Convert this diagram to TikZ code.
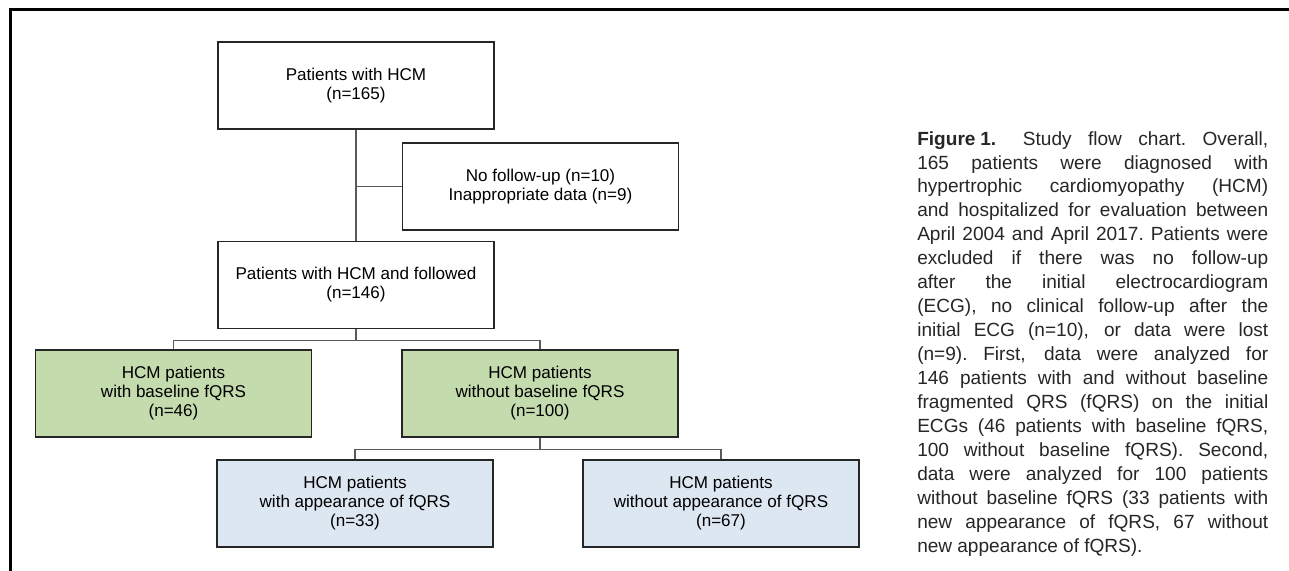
\documentclass[tikz,border=0pt]{standalone}
\usepackage{fontspec}
\setmainfont{Liberation Sans}
\definecolor{basegreen}{RGB}{196,219,174}
\definecolor{appblue}{RGB}{221,231,242}
\newcommand{\capline}[1]{\hbox to 263.25pt{#1}}
\begin{document}
\begin{tikzpicture}[x=0.75pt,y=-0.75pt,
  box/.style={draw=black!85,line width=1.1pt,fill=white,minimum width=207pt,
    minimum height=65.25pt,inner sep=0pt,align=center,
    font=\fontsize{12.8}{14.3}\selectfont},
  greenbox/.style={box,fill=basegreen},
  bluebox/.style={box,fill=appblue},
  link/.style={draw=black!65,line width=0.8pt},
  frame/.style={draw=black,line width=2.25pt}]
  \useasboundingbox (0,0) rectangle (1289,571);
  \draw[frame] (1289,9.5) -| (10.5,571);
  \node[box] (hcm) at (356,85.5) {Patients with HCM\\(n=165)};
  \node[box] (excl) at (540.5,186.5) {No follow-up (n=10)\\Inappropriate data (n=9)};
  \node[box] (fol) at (356,285) {Patients with HCM and followed\\(n=146)};
  \node[greenbox] (wbase) at (173.5,393.5) {HCM patients\\with baseline fQRS\\(n=46)};
  \node[greenbox] (wobase) at (540,393.5) {HCM patients\\without baseline fQRS\\(n=100)};
  \node[bluebox] (wapp) at (355,503.5) {HCM patients\\with appearance of fQRS\\(n=33)};
  \node[bluebox] (woapp) at (721,503.5) {HCM patients\\without appearance of fQRS\\(n=67)};
  \draw[link] (hcm) -- (fol);
  \coordinate (excljoin) at (hcm.south |- excl.west);
  \draw[link] (excljoin) -- (excl.west);
  \path (fol.south) ++(0,11) coordinate (folknot);
  \draw[link] (fol.south) -- (folknot);
  \draw[link] (wbase.north) |- (folknot) -| (wobase.north);
  \path (wobase.south) ++(0,12) coordinate (baseknot);
  \draw[link] (wobase.south) -- (baseknot);
  \draw[link] (wapp.north) |- (baseknot) -| (woapp.north);
  \node[anchor=north west,text width=263.25pt,inner sep=0pt,text=black!85,
    font=\fontsize{14.3}{17.96}\selectfont] (caption) at (917,131)
    {\baselineskip=17.96pt
     \spaceskip=0.27em plus 3em minus 0.05em
     \xspaceskip=\spaceskip
     \capline{\textbf{Figure\kern0.25em1.}\kern1.4em Study flow chart. Overall,}
     \capline{165 patients were diagnosed with}
     \capline{hypertrophic cardiomyopathy (HCM)}
     \capline{and hospitalized for evaluation between}
     \capline{April 2004 and April 2017. Patients were}
     \capline{excluded if there was no follow-up}
     \capline{after the initial electrocardiogram}
     \capline{(ECG), no clinical follow-up after the}
     \capline{initial ECG (n=10), or data were lost}
     \capline{(n=9). First, data were analyzed for}
     \capline{146 patients with and without baseline}
     \capline{fragmented QRS (fQRS) on the initial}
     \capline{ECGs (46 patients with baseline fQRS,}
     \capline{100 without baseline fQRS). Second,}
     \capline{data were analyzed for 100 patients}
     \capline{without baseline fQRS (33 patients with}
     \capline{new appearance of fQRS, 67 without}
     \hbox{new appearance of fQRS).}};
\end{tikzpicture}
\end{document}
